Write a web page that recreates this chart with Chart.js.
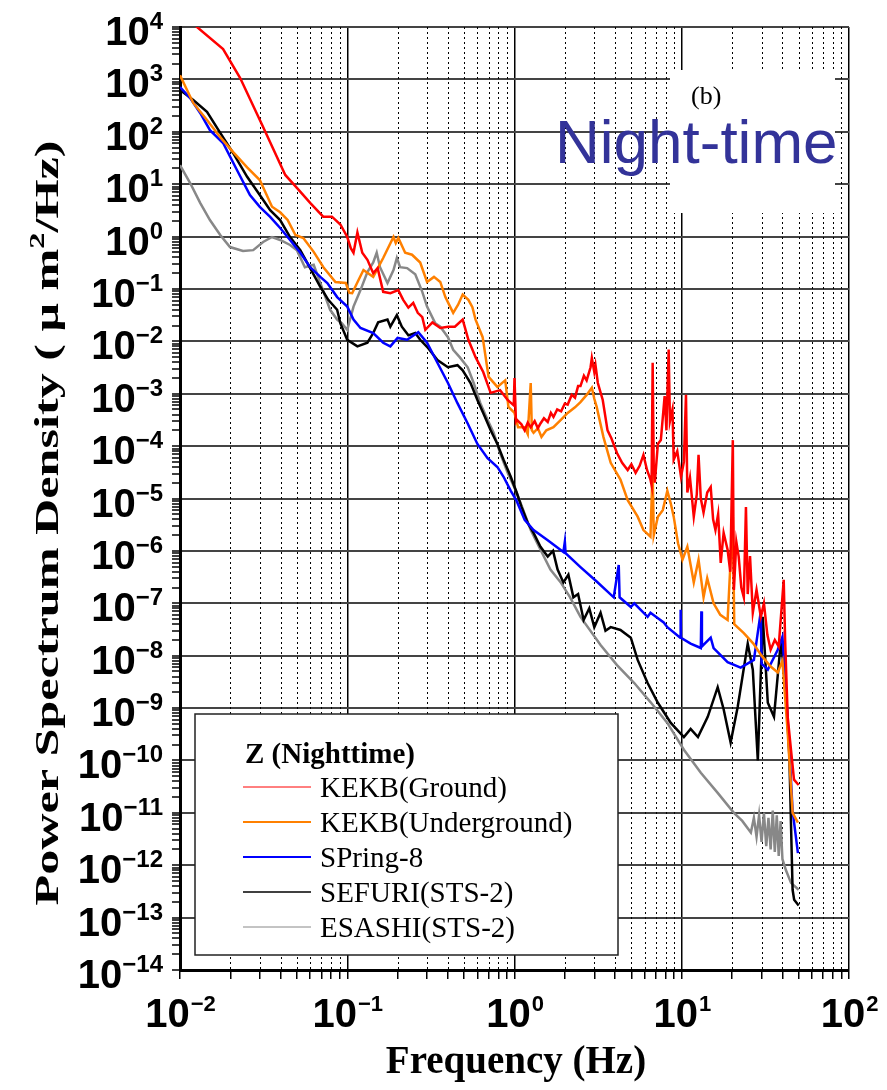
<!DOCTYPE html>
<html>
<head>
<meta charset="utf-8">
<script src="https://cdn.jsdelivr.net/npm/chart.js@4.4.1/dist/chart.umd.min.js"></script>
<style>
  html, body { margin: 0; padding: 0; background: #ffffff; }
</style>
</head>
<body>
<canvas id="plot-area" width="887" height="1090"></canvas>
<script>
// values (frequency in Hz, PSD in um^2/Hz)
const kekbGroundF = [0.0118, 0.0181, 0.0229, 0.0314, 0.0426, 0.05, 0.06, 0.0718, 0.081, 0.091, 0.1, 0.105, 0.109, 0.115, 0.123, 0.132, 0.143, 0.152, 0.164, 0.181, 0.202, 0.216, 0.232, 0.248, 0.264, 0.281, 0.293, 0.323, 0.36, 0.4, 0.44, 0.49, 0.53, 0.585, 0.65, 0.72, 0.82, 0.91, 0.99, 1.0, 1.02, 1.03, 1.1, 1.15, 1.2, 1.25, 1.32, 1.38, 1.43, 1.5, 1.58, 1.65, 1.71, 1.8, 1.9, 2.0, 2.08, 2.2, 2.3, 2.4, 2.48, 2.6, 2.7, 2.85, 2.9, 3.0, 3.05, 3.15, 3.37, 3.6, 3.8, 4.1, 4.4, 4.75, 5.0, 5.3, 5.6, 5.9, 6.2, 6.5, 6.6, 6.7, 6.8, 6.9, 7.2, 7.5, 7.9, 8.1, 8.35, 8.5, 8.8, 8.95, 9.4, 9.9, 10.3, 10.6, 10.8, 11.2, 11.8, 12.3, 12.6, 13.0, 13.5, 14.2, 14.9, 15.4, 15.9, 16.5, 17.1, 17.8, 18.8, 19.5, 20.2, 20.5, 21.2, 21.9, 22.7, 23.5, 24.2, 24.8, 25.6, 26.6, 28, 29.7, 31, 32.5, 34, 36, 38, 40.7, 41.5, 43, 45, 46.9, 50];
const kekbGroundP = [1.2e4, 3.8e3, 1.06e3, 123, 15, 8.5, 4.4, 2.4, 2.4, 1.7, 0.98, 0.6, 0.49, 1.2, 0.49, 0.36, 0.2, 0.25, 0.088, 0.083, 0.095, 0.062, 0.044, 0.054, 0.035, 0.029, 0.0166, 0.023, 0.018, 0.019, 0.019, 0.026, 0.0107, 0.005, 0.0026, 0.00104, 0.00117, 0.00076, 0.0006, 0.002, 0.0003, 3.2e-4, 2.6e-4, 2.0e-4, 2.8e-4, 2.3e-4, 3.0e-4, 2.2e-4, 2.7e-4, 3.4e-4, 2.9e-4, 4.3e-4, 3.6e-4, 5.0e-4, 4.6e-4, 6.5e-4, 6.2e-4, 9.5e-4, 8.4e-4, 1.4e-3, 1.4e-3, 2.2e-3, 1.8e-3, 3.2e-3, 4.8e-3, 2.6e-3, 3.5e-3, 1.6e-3, 7.6e-4, 2.0e-4, 1.4e-4, 7.4e-5, 4.8e-5, 3.5e-5, 4.5e-5, 3.1e-5, 4.2e-5, 6.8e-5, 3.5e-5, 2.3e-5, 1.8e-5, 3.9e-3, 4.0e-5, 2.0e-5, 1.1e-4, 1.3e-4, 9e-4, 2e-4, 7e-3, 3e-4, 5e-4, 5.5e-5, 8e-5, 2.6e-5, 5e-5, 9.5e-4, 1.3e-5, 2.5e-5, 4.5e-6, 1.2e-5, 6.8e-5, 1e-5, 5.4e-6, 1.3e-5, 1.65e-5, 4e-6, 2.5e-6, 5e-6, 5.9e-7, 2.2e-6, 1.05e-6, 4e-7, 1.3e-4, 1.8e-7, 1.5e-6, 7.8e-7, 2e-7, 1.3e-7, 6.9e-6, 1.5e-7, 8e-7, 6.6e-8, 1.8e-7, 5.5e-8, 1e-7, 2.5e-8, 1.3e-8, 2e-8, 1.5e-8, 2.8e-7, 2e-8, 6.8e-10, 1.6e-10, 4.3e-11, 3.4e-11];

const kekbUnderF = [0.01, 0.012, 0.0145, 0.0174, 0.0208, 0.0252, 0.03, 0.0355, 0.0397, 0.044, 0.049, 0.0546, 0.063, 0.072, 0.085, 0.098, 0.103, 0.107, 0.117, 0.125, 0.143, 0.164, 0.189, 0.195, 0.202, 0.222, 0.244, 0.273, 0.3, 0.33, 0.36, 0.386, 0.43, 0.46, 0.49, 0.53, 0.56, 0.585, 0.645, 0.7, 0.79, 0.88, 0.92, 1.0, 1.05, 1.15, 1.2, 1.25, 1.27, 1.3, 1.38, 1.45, 1.55, 1.71, 1.9, 2.08, 2.3, 2.48, 2.7, 2.9, 3.0, 3.1, 3.4, 3.76, 4.3, 4.75, 5.45, 5.9, 6.5, 6.7, 6.8, 7.2, 7.7, 8.2, 8.6, 8.95, 9.5, 10.1, 10.8, 11.8, 12.6, 13.5, 14.2, 15.5, 17, 18.8, 20.2, 20.6, 23.5, 26.8, 30, 34, 37.5, 40, 43, 46, 49.5];
const kekbUnderP = [1.2e3, 355, 168, 79, 41, 21, 12, 3.7, 2.9, 2.07, 1.07, 0.94, 0.51, 0.26, 0.136, 0.13, 0.084, 0.083, 0.15, 0.23, 0.17, 0.39, 0.98, 0.75, 0.94, 0.49, 0.45, 0.32, 0.136, 0.17, 0.136, 0.07, 0.035, 0.05, 0.078, 0.062, 0.045, 0.026, 0.012, 0.0021, 0.00135, 0.0018, 5.6e-4, 4.3e-4, 2.3e-4, 2.3e-4, 1.7e-4, 1.6e-3, 2e-4, 1.8e-4, 2.2e-4, 1.5e-4, 2e-4, 2.3e-4, 3.2e-4, 4.3e-4, 5.5e-4, 6.9e-4, 9.5e-4, 1.3e-3, 8e-4, 5.6e-4, 1.5e-4, 4.8e-5, 2.3e-5, 9.3e-6, 4.5e-6, 2.5e-6, 1.86e-6, 4e-5, 2e-6, 4.5e-6, 6e-6, 1.4e-5, 8e-6, 4.5e-6, 1.4e-6, 6.8e-7, 1.2e-6, 2.5e-7, 6.8e-7, 1.3e-7, 3e-7, 1e-7, 6e-8, 4.8e-8, 4.5e-6, 4e-8, 2.7e-8, 1.7e-8, 1e-8, 6.2e-9, 4.8e-9, 8e-9, 3.4e-10, 1e-11, 6.5e-12];

const springF = [0.01, 0.0115, 0.0132, 0.0151, 0.0181, 0.0219, 0.0262, 0.03, 0.0346, 0.0397, 0.0455, 0.0524, 0.06, 0.069, 0.076, 0.087, 0.1, 0.109, 0.12, 0.143, 0.164, 0.181, 0.2, 0.228, 0.266, 0.3, 0.346, 0.4, 0.456, 0.525, 0.6, 0.69, 0.79, 0.86, 0.95, 1.03, 1.15, 1.3, 1.58, 1.96, 2.0, 2.02, 2.48, 3.1, 3.92, 4.2, 4.25, 4.96, 5.2, 6.25, 6.5, 7.8, 8.2, 9.8, 9.85, 9.9, 11.3, 13, 13.1, 13.2, 14.9, 15.5, 18.8, 22.5, 27, 29.7, 30, 32.7, 37.5, 40, 42, 44, 46, 49.5];
const springP = [716, 440, 229, 107, 61, 18.6, 6.2, 3.7, 2.37, 1.46, 0.86, 0.49, 0.26, 0.17, 0.13, 0.07, 0.046, 0.026, 0.018, 0.0144, 0.0094, 0.008, 0.0116, 0.0107, 0.015, 0.0094, 0.0039, 1.6e-3, 6.6e-4, 2.7e-4, 1.1e-4, 5.9e-5, 4e-5, 2.6e-5, 1.4e-5, 9e-6, 3.9e-6, 2.5e-6, 1.6e-6, 9.5e-7, 1.5e-6, 9e-7, 4.9e-7, 2.6e-7, 1.3e-7, 5.4e-7, 1.3e-7, 8.5e-8, 1.0e-7, 5.5e-8, 6.6e-8, 4.3e-8, 3.5e-8, 2.2e-8, 7.5e-8, 2.2e-8, 1.7e-8, 1.4e-8, 7e-8, 1.5e-8, 2.2e-8, 1.4e-8, 7.5e-9, 5.9e-9, 8.3e-9, 7e-8, 7e-9, 5.4e-9, 1.3e-8, 2.3e-8, 2.2e-9, 1.6e-10, 1.1e-11, 1.7e-12];

const sefuriF = [0.01, 0.012, 0.0145, 0.0174, 0.0208, 0.0252, 0.03, 0.0346, 0.0397, 0.0455, 0.0524, 0.06, 0.069, 0.077, 0.087, 0.091, 0.1, 0.115, 0.132, 0.143, 0.153, 0.174, 0.181, 0.198, 0.212, 0.232, 0.255, 0.273, 0.305, 0.346, 0.4, 0.456, 0.49, 0.546, 0.6, 0.65, 0.72, 0.79, 0.86, 0.95, 1.03, 1.1, 1.2, 1.3, 1.43, 1.58, 1.7, 1.81, 1.96, 2.1, 2.25, 2.4, 2.59, 2.8, 3.0, 3.27, 3.5, 3.76, 4.3, 4.96, 5.45, 6.25, 7.2, 8.6, 10.3, 11.3, 12.5, 14.3, 16.4, 17.8, 19.6, 21.6, 24.8, 26.6, 28.5, 30.5, 32.7, 35.6, 39.2, 42, 44, 46, 47, 50];
const sefuriP = [630, 405, 240, 95, 39, 13.8, 6.2, 3.2, 2.07, 0.98, 0.55, 0.25, 0.11, 0.062, 0.04, 0.022, 0.0107, 0.008, 0.0094, 0.0144, 0.023, 0.026, 0.019, 0.0316, 0.019, 0.013, 0.0144, 0.0107, 0.0074, 0.0044, 0.0032, 0.0035, 0.0028, 0.0016, 7.6e-4, 4.3e-4, 2.0e-4, 1.1e-4, 5.5e-5, 2.6e-5, 1.3e-5, 7e-6, 3.4e-6, 2.2e-6, 1.2e-6, 7.8e-7, 1e-6, 4.4e-7, 2.5e-7, 3.5e-7, 1.3e-7, 1.5e-7, 4.8e-8, 8e-8, 3.5e-8, 6.6e-8, 3e-8, 3.5e-8, 3.1e-8, 2.2e-8, 8.3e-9, 3e-9, 1.26e-9, 5.2e-10, 2.8e-10, 4e-10, 2.8e-10, 6.8e-10, 2.5e-9, 9.5e-10, 2.2e-10, 1.05e-9, 1.7e-8, 5.4e-9, 1e-10, 5.5e-8, 1.26e-9, 6.8e-10, 2e-8, 1.9e-9, 1.2e-10, 3.4e-13, 2.2e-13, 1.7e-13];

const esashiF = [0.01, 0.0115, 0.0132, 0.0151, 0.0174, 0.0199, 0.0238, 0.0274, 0.0314, 0.0355, 0.0397, 0.0455, 0.05, 0.0558, 0.063, 0.069, 0.079, 0.087, 0.093, 0.1, 0.109, 0.12, 0.132, 0.143, 0.15, 0.157, 0.174, 0.189, 0.198, 0.207, 0.228, 0.255, 0.281, 0.3, 0.336, 0.36, 0.4, 0.43, 0.47, 0.525, 0.57, 0.625, 0.69, 0.75, 0.82, 0.91, 1.03, 1.25, 1.43, 1.64, 1.89, 2.15, 2.48, 3.27, 4.1, 5.2, 6.5, 8.2, 10.3, 13, 16.4, 20.5, 23, 25.9, 27, 28, 29, 30, 31, 32, 33, 34, 35, 36, 37, 38, 39, 40, 42, 45, 50];
const esashiP = [23, 10.5, 4.4, 2.07, 1.07, 0.63, 0.53, 0.55, 0.79, 0.98, 0.86, 0.69, 0.55, 0.26, 0.29, 0.13, 0.04, 0.026, 0.022, 0.0166, 0.046, 0.095, 0.21, 0.32, 0.49, 0.26, 0.13, 0.23, 0.39, 0.26, 0.25, 0.19, 0.088, 0.046, 0.022, 0.019, 0.012, 0.0069, 0.005, 0.0032, 0.0016, 6.6e-4, 3.2e-4, 1.8e-4, 7.4e-5, 3.1e-5, 1.3e-5, 2.5e-6, 1.05e-6, 4.4e-7, 2.5e-7, 1.3e-7, 5.5e-8, 1.6e-8, 6.6e-9, 3e-9, 1.3e-9, 5.2e-10, 1.6e-10, 5.8e-11, 2.4e-11, 1e-11, 7e-12, 4.2e-12, 8e-12, 3.5e-12, 9e-12, 2.8e-12, 1e-11, 2.3e-12, 8e-12, 2e-12, 1.1e-11, 1.8e-12, 9e-12, 1.5e-12, 7e-12, 1.3e-12, 8e-13, 4.6e-13, 3.4e-13];

const seriesNames = ["KEKB(Ground)", "KEKB(Underground)", "SPring-8", "SEFURI(STS-2)", "ESASHI(STS-2)"];
const seriesColors = ["#ff0000", "#ff8000", "#0000ff", "#000000", "#888888"];
const xDecades = [-2, -1, 0, 1, 2];
const yDecades = [-14, -13, -12, -11, -10, -9, -8, -7, -6, -5, -4, -3, -2, -1, 0, 1, 2, 3, 4];

function toPoints(fs, ps) {
  return fs.map((f, i) => ({ x: f, y: ps[i] }));
}

function isDecade(v) {
  const l = Math.log10(v);
  return Math.abs(l - Math.round(l)) < 1e-6;
}

function logTicks(decades, withMinor) {
  let out = [];
  for (let i = 0; i < decades.length; i++) {
    const base = Math.pow(10, decades[i]);
    out.push({ value: base });
    if (withMinor && i < decades.length - 1) {
      for (let k = 2; k <= 9; k++) out.push({ value: k * base });
    }
  }
  return out;
}

// dotted minor verticals, drawn under the data
const minorGrid = {
  id: "minorGrid",
  beforeDatasetsDraw(chart) {
    const ctx = chart.ctx;
    const xs = chart.scales.x;
    const area = chart.chartArea;
    ctx.save();
    ctx.strokeStyle = "#000";
    ctx.lineWidth = 1;
    ctx.setLineDash([2, 3]);
    for (const t of xs.ticks) {
      if (isDecade(t.value)) continue;
      const px = Math.round(xs.getPixelForValue(t.value)) + 0.5;
      ctx.beginPath();
      ctx.moveTo(px, area.top);
      ctx.lineTo(px, area.bottom);
      ctx.stroke();
    }
    ctx.restore();
  },
};

const overlay = {
  id: "overlay",
  afterDraw(chart) {
    const ctx = chart.ctx;
    const xs = chart.scales.x;
    const ys = chart.scales.y;
    ctx.save();
    ctx.fillStyle = "#000";

    // y tick labels 10^n
    for (const n of yDecades) {
      const py = ys.getPixelForValue(Math.pow(10, n));
      const exp = n < 0 ? "\u2212" + (-n) : "" + n;
      ctx.font = "bold 24px 'Liberation Sans'";
      const ew = ctx.measureText(exp).width;
      ctx.textAlign = "left";
      ctx.fillText(exp, 163 - ew, py + 2);
      ctx.font = "bold 40px 'Liberation Sans'";
      ctx.textAlign = "right";
      ctx.fillText("10", 163 - ew, py + 18);
    }

    // x tick labels
    for (const n of xDecades) {
      const px = xs.getPixelForValue(Math.pow(10, n));
      const exp = n < 0 ? "\u2212" + (-n) : "" + n;
      ctx.font = "bold 22px 'Liberation Sans'";
      const ew = ctx.measureText(exp).width;
      ctx.font = "bold 40px 'Liberation Sans'";
      const bw = ctx.measureText("10").width;
      const x0 = px - (bw + ew) / 2;
      ctx.textAlign = "left";
      ctx.fillText("10", x0, 1027);
      ctx.font = "bold 22px 'Liberation Sans'";
      ctx.fillText(exp, x0 + bw + 1, 1011);
    }

    // axis titles
    ctx.font = "bold 39px 'Liberation Serif'";
    ctx.textAlign = "center";
    ctx.fillText("Frequency (Hz)", 516, 1073);

    ctx.save();
    ctx.translate(58, 523);
    ctx.rotate(-Math.PI / 2);
    const partA = "Power Spectrum Density ( \u03bc m";
    const partB = "2";
    const partC = "/Hz)";
    ctx.font = "bold 34px 'Liberation Serif'";
    const wa = ctx.measureText(partA).width;
    const wc = ctx.measureText(partC).width;
    ctx.font = "bold 22px 'Liberation Serif'";
    const wb = ctx.measureText(partB).width;
    const total = wa + wb + wc;
    ctx.scale(765 / total, 1);
    ctx.textAlign = "left";
    let cx = -total / 2;
    ctx.font = "bold 34px 'Liberation Serif'";
    ctx.fillText(partA, cx, 0);
    ctx.font = "bold 22px 'Liberation Serif'";
    ctx.fillText(partB, cx + wa, -14);
    ctx.font = "bold 34px 'Liberation Serif'";
    ctx.fillText(partC, cx + wa + wb, 0);
    ctx.restore();

    // (b) Night-time box
    ctx.fillStyle = "#ffffff";
    ctx.fillRect(670, 70, 165, 143);
    ctx.fillStyle = "#000";
    ctx.font = "26px 'Liberation Serif'";
    ctx.textAlign = "left";
    ctx.fillText("(b)", 691, 104);
    ctx.fillStyle = "#333399";
    ctx.font = "62px 'Liberation Sans'";
    ctx.fillText("Night-time", 555, 163);

    // legend box
    ctx.fillStyle = "#ffffff";
    ctx.fillRect(195, 714, 423, 241);
    ctx.strokeStyle = "#222";
    ctx.lineWidth = 1.5;
    ctx.strokeRect(195, 714, 423, 241);
    ctx.fillStyle = "#000";
    ctx.font = "bold 29px 'Liberation Serif'";
    ctx.fillText("Z (Nighttime)", 245, 763);
    const widths = [1, 2, 2, 1.5, 1];
    ctx.font = "29px 'Liberation Serif'";
    for (let i = 0; i < seriesNames.length; i++) {
      const by = 797 + 35 * i;
      ctx.strokeStyle = seriesColors[i];
      ctx.lineWidth = widths[i];
      ctx.beginPath();
      ctx.moveTo(243, by - 10);
      ctx.lineTo(311, by - 10);
      ctx.stroke();
      ctx.fillStyle = "#000";
      ctx.fillText(seriesNames[i], 320, by);
    }
    ctx.restore();
  },
};

function drawPlot() {
  const pts = [
    toPoints(kekbGroundF, kekbGroundP),
    toPoints(kekbUnderF, kekbUnderP),
    toPoints(springF, springP),
    toPoints(sefuriF, sefuriP),
    toPoints(esashiF, esashiP),
  ];
  let datasets = pts.map((d, i) => ({
    label: seriesNames[i],
    data: d,
    borderColor: seriesColors[i],
    backgroundColor: seriesColors[i],
    borderWidth: 2.5,
    pointRadius: 0,
    tension: 0,
    fill: false,
  }));

  const config = {
    type: "line",
    data: { datasets: datasets },
    options: {
      responsive: false,
      animation: false,
      devicePixelRatio: 1,
      layout: { padding: { left: 0, right: 38, top: 27, bottom: 0 } },
      plugins: { legend: { display: false }, tooltip: { enabled: false } },
      scales: {
        x: {
          type: "logarithmic",
          min: 0.01,
          max: 100,
          afterBuildTicks: (s) => { s.ticks = logTicks(xDecades, true); },
          afterFit: (s) => { s.height = 120; },
          ticks: { display: false },
          grid: {
            color: (c) => (c.tick && isDecade(c.tick.value) ? "#000" : "rgba(0,0,0,0)"),
            lineWidth: 1.5,
            tickColor: "#000",
            tickLength: 9,
            tickWidth: 1.5,
          },
          border: { display: true, color: "#000", width: 3 },
        },
        y: {
          type: "logarithmic",
          min: 1e-14,
          max: 1e4,
          afterBuildTicks: (s) => { s.ticks = logTicks(yDecades, true); },
          afterFit: (s) => { s.width = 180; },
          ticks: { display: false },
          grid: {
            color: (c) => (c.tick && isDecade(c.tick.value) ? "#444" : "rgba(0,0,0,0)"),
            lineWidth: 2,
            tickColor: "#000",
            tickLength: 8,
            tickWidth: 1.5,
          },
          border: { display: true, color: "#000", width: 3 },
        },
      },
    },
    plugins: [minorGrid, overlay],
  };
  var ctx1 = document.getElementById("plot-area").getContext("2d");
  var plot = new Chart(ctx1, config);
}

drawPlot();
</script>
</body>
</html>
